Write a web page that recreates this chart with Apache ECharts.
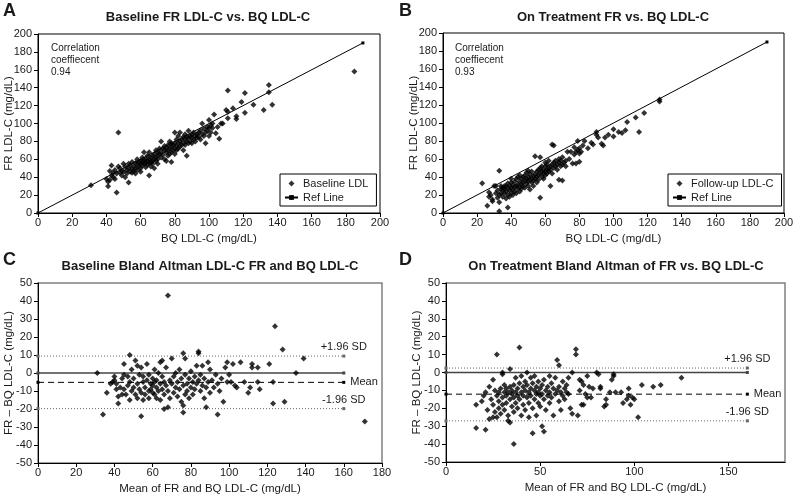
<!DOCTYPE html>
<html><head><meta charset="utf-8">
<script src="https://cdn.jsdelivr.net/npm/echarts@6/dist/echarts.min.js"></script>
<style>html,body{margin:0;padding:0;background:#fff}#c{width:796px;height:495px}</style>
</head><body><div id="c"></div>
<script>
// ---- Data ----
const baselinePoints = [
 [31,31],[40,38],[41,35],[41,30],[42,37],[42,47],[43,42],[43,53],[44,40],[44,45],[45,38],[45,48],[46,44],[46,23],[47,90],[47,52],[48,45],[48,50],[49,42],[49,47],[50,46],[50,55],
 [51,40],[51,52],[52,48],[52,44],[53,34],[53,55],[53,50],[54,46],[54,53],[55,49],[55,45],[55,57],[56,47],[56,52],[57,50],[57,44],[57,56],[58,48],[58,54],[58,60],[59,52],[59,57],[60,50],[60,55],[60,58],[60,46],
 [61,53],[61,57],[61,62],[62,55],[62,59],[62,68],[63,51],[63,56],[63,60],[64,54],[64,58],[64,64],[65,56],[65,42],[65,60],[65,68],[66,52],[66,57],[66,62],[67,58],[67,64],[67,55],[68,60],[68,66],[68,50],[69,62],[69,58],[69,70],[70,64],[70,60],[70,68],[70,55],
 [71,66],[71,72],[72,62],[72,80],[72,68],[73,65],[73,72],[74,70],[74,60],[74,75],[75,68],[75,73],[75,58],[76,70],[76,76],[76,64],[77,72],[77,66],[77,80],[78,74],[78,68],[78,78],[78,57],[79,76],[79,70],[80,72],[80,78],[80,90],[80,66],
 [81,75],[81,82],[81,70],[82,78],[82,86],[82,72],[83,80],[83,74],[83,90],[84,82],[84,76],[85,78],[85,85],[85,70],[86,82],[86,88],[86,76],[87,80],[87,64],[87,85],[88,84],[88,78],[88,92],[89,86],[89,80],[90,84],[90,88],[90,78],
 [91,82],[91,90],[92,86],[92,80],[93,88],[93,84],[94,90],[94,85],[95,82],[95,92],[96,88],[96,100],[97,86],[97,94],[98,78],[98,90],[99,96],[99,92],[100,95],[100,104],[100,86],
 [101,98],[101,90],[102,100],[102,95],[103,110],[104,89],[105,96],[106,83],[107,100],[108,100],[110,115],[111,113],[111,106],[111,137],[114,117],[116,108],[116,105],[119,124],[121,134],[121,112],[126,121],[132,115],[135,143],[135,135],[137,121],[185,158]
];
const followupPoints = [
 [23,33],[26,8],[27,23],[27,18],[28,20],[29,15],[29,13],[30,30],[31,22],[31,30],[32,25],[32,17],[33,2],[33,47],[33,20],[33,12],[34,27],[34,22],[34,30],[35,25],[35,18],[35,28],
 [36,22],[36,27],[36,30],[37,24],[37,16],[37,30],[38,6],[38,20],[38,27],[38,33],[39,25],[39,30],[39,18],[40,28],[40,22],[40,34],[40,38],[41,26],[41,31],[41,20],[42,29],[42,35],[42,24],[43,30],[43,38],[43,22],[44,32],[44,27],[44,40],[45,29],[45,35],[45,24],[45,42],
 [46,32],[46,38],[46,27],[47,34],[47,40],[47,30],[48,36],[48,42],[48,28],[49,33],[49,38],[49,45],[50,35],[50,40],[50,30],[50,47],[51,37],[51,43],[51,26],[52,39],[52,34],[52,46],[53,41],[53,36],[53,30],[54,43],[54,38],[54,63],[55,40],[55,46],[55,34],
 [56,42],[56,48],[56,37],[57,17],[57,44],[57,62],[57,50],[58,40],[58,46],[58,52],[59,44],[59,48],[59,38],[60,46],[60,52],[60,42],[60,56],[61,48],[61,44],[61,54],[62,50],[62,46],[62,58],[63,30],[63,52],[63,48],[64,76],[64,54],[64,44],[65,75],[65,50],[65,56],
 [66,52],[66,58],[67,54],[67,48],[68,37],[68,56],[68,60],[69,52],[69,58],[70,36],[70,54],[70,62],[71,56],[72,58],[72,52],[73,68],[74,60],[75,68],[76,55],[77,73],[77,65],[78,68],[78,55],[79,70],[79,80],[80,57],[80,66],[80,72],
 [81,68],[82,75],[83,80],[85,72],[87,78],[88,76],[90,90],[90,87],[91,84],[93,77],[94,75],[95,84],[97,87],[100,93],[100,85],[103,90],[105,89],[107,92],[108,101],[113,106],[115,90],[118,111],[127,124],[127,126]
];
const baselineBA = [
 [31,0],[34,-23],[36,-11],[38,-6],[39,-5],[40,-4],[40,-2],[41,-9],[41,-6],[42,-17],[42,-13],[43,-8],[44,-3],[44,-12],[45,5],[45,-1],[45,-9],[46,-12],
 [47,-7],[47,-2],[48,10],[48,-15],[48,-5],[49,2],[49,-10],[50,-3],[50,-8],[51,7],[51,-12],[52,4],[52,-6],[52,-14],[53,-1],[53,-9],[54,-24],[54,3],[54,-11],[55,-5],[55,-15],[55,-2],
 [56,-8],[56,-12],[57,5],[57,-4],[58,-10],[58,-1],[58,-14],[59,-6],[59,-9],[60,-3],[60,-11],[60,-7],[61,-5],[61,-12],[61,2],[62,-8],[62,-14],[62,-4],[63,0],[63,-10],[64,-6],[64,6],[64,-15],[65,7],[65,-9],[65,-2],[66,-20],[66,-12],[66,-5],
 [67,-7],[67,3],[68,-19],[68,-10],[68,43],[69,-4],[69,-14],[70,-6],[70,8],[71,-2],[71,-11],[72,-8],[72,0],[73,-13],[73,-5],[74,-9],[74,2],[75,-3],[75,-16],[76,11],[76,-22],[76,-18],[76,-7],[77,8],[77,-1],[77,-12],
 [78,-6],[78,-10],[79,-3],[79,-14],[80,-8],[80,1],[81,-5],[81,-12],[82,-2],[82,-9],[83,4],[83,-6],[84,12],[84,11],[84,-4],[85,-10],[85,-1],[86,4],[86,-7],[87,-14],[87,-3],[88,-19],[88,-8],[89,6],[89,-5],[90,-11],[90,2],
 [91,-4],[92,-8],[93,-1],[94,-23],[94,-6],[95,-10],[96,-3],[97,-16],[98,3],[99,6],[99,-5],[100,-1],[101,-5],[102,5],[103,-7],[104,-8],[106,6],[108,-5],[110,-11],[111,-8],[112,5],[112,3],[115,3],[115,-5],[116,-9],[121,5],
 [123,-5],[123,-17],[124,26],[128,13],[129,-16],[135,0],[139,8],[171,-27]
];
const followupBA = [
 [16,-18],[16,-31],[19,-16],[20,-13],[21,-32],[21,-11],[22,-21],[23,-26],[23,-8],[24,-15],[25,-4],[25,-18],[25,-25],
 [26,-10],[26,-22],[27,10],[27,-13],[27,-25],[28,-16],[28,-20],[28,-11],[29,-9],[29,-23],[30,0],[30,-1],[30,-14],[30,-18],[31,-11],[31,-7],[31,-21],[32,-13],[32,-9],[32,-17],[33,-24],[33,-11],[33,-27],[34,2],[34,-8],[34,-15],[34,-28],[35,-12],[35,-19],[35,-10],
 [36,-40],[36,-7],[36,-14],[36,-22],[37,-11],[37,-17],[37,-3],[38,-9],[38,-13],[38,-20],[39,-6],[39,-15],[39,14],[40,-11],[40,-2],[40,-24],[41,-8],[41,-13],[41,-18],[42,-10],[42,-5],[42,-21],[43,0],[43,-14],[43,-7],[44,-11],[44,-25],[44,-17],[45,-9],[45,-3],[45,-13],
 [46,-34],[46,-6],[46,-20],[47,-10],[47,-15],[47,-2],[48,-8],[48,-12],[48,-24],[49,-5],[49,-17],[49,-11],[50,-9],[50,-13],[50,-19],[51,-30],[51,-7],[51,-12],[52,-33],[52,-4],[52,-15],[53,-10],[53,-21],[54,-8],[54,-13],[55,-2],[55,-11],[55,-17],
 [56,-6],[56,-14],[57,-9],[57,-24],[58,-12],[58,-3],[59,-10],[59,7],[60,-16],[60,4],[60,-8],[61,-11],[61,-21],[62,-5],[62,-13],[63,-9],[63,-15],[64,-11],[64,-7],[65,-12],[65,-3],[66,-20],
 [67,0],[67,-23],[69,13],[69,10],[70,-24],[71,-4],[71,-10],[72,-18],[72,-5],[73,-18],[73,-7],[74,-12],[75,-14],[75,-2],[76,-8],[77,-14],[78,-9],[80,0],[81,-1],
 [82,-9],[82,-8],[84,-19],[85,-18],[85,-15],[87,-11],[88,-4],[89,-1],[89,-2],[90,-11],[93,-11],[94,-17],[96,-15],[97,-9],[97,-13],[98,-18],[99,-14],[100,-15],[102,-25],[104,-7],[110,-8],[114,-7],[125,-3]
];
const refLine = [[0,0],[190,190]];
const baLineX = [0,160];
const baselineLimits = [9.4, -5.2, -19.8];   // +1.96 SD, mean, -1.96 SD
const followupLimits = [2.5, -12.1, -27.0];
const correlations = ['0.94','0.93'];
const ticksD = [0,50,100,150];

// ---- Chart ----
const FONT = "'Liberation Sans', Arial, sans-serif";
const chart = echarts.init(document.getElementById('c'), null, {renderer:'canvas'});
const DIAMOND = 'path://M0,-1L1,0L0,1L-1,0Z';

function grid(left, top, width, height, ba){
  return {left, top, width, height, containLabel:false, outerBoundsMode:'none', show:true,
    borderColor: ba ? '#808080' : '#000', borderWidth: ba ? 1.5 : 1, backgroundColor:'transparent'};
}
function axisCommon(){
  return {
    axisLine:{show:true, onZero:false, lineStyle:{color:'#000', width:1}},
    axisTick:{show:true, length:4, inside:false, lineStyle:{color:'#000', width:1}},
    axisLabel:{color:'#1a1a1a', fontSize:11, fontFamily:FONT, margin:4},
    splitLine:{show:false},
    nameTextStyle:{color:'#1a1a1a', fontSize:11.5, fontFamily:FONT},
    nameLocation:'middle',
    nameMoveOverlap:false
  };
}
function xAx(idx, min, max, interval, name, extra){
  const a = Object.assign(axisCommon(), {type:'value', gridIndex:idx, min, max, interval, name, nameGap:20});
  return Object.assign(a, extra||{});
}
function yAx(idx, min, max, interval, name){
  const a = Object.assign(axisCommon(), {type:'value', gridIndex:idx, min, max, interval, name, nameGap:23});
  a.axisLabel = Object.assign({}, a.axisLabel, {margin:6});
  return a;
}
function scatter(name, idx, data){
  return {type:'scatter', name, xAxisIndex:idx, yAxisIndex:idx, data, symbol:'diamond', symbolSize:6,
    itemStyle:{color:'#000'}, animation:false, z:3};
}
function refSeries(idx){
  return {type:'line', name:'Ref Line', xAxisIndex:idx, yAxisIndex:idx, data:refLine, symbol:'rect', symbolSize:3,
    showSymbol:true, lineStyle:{color:'#000', width:1}, itemStyle:{color:'#000'}, animation:false, z:2};
}
function levelLine(idx, y, style, label, labelPos){
  const end = {value:[baLineX[1], y]};
  if (label) end.label = {show:true, formatter:label, position:labelPos, distance: labelPos==='right'?5:2,
     color:'#1a1a1a', fontSize:11, fontFamily:FONT};
  return {type:'line', xAxisIndex:idx, yAxisIndex:idx, data:[[baLineX[0], y], end], symbol:'rect', symbolSize:3,
    lineStyle:style, itemStyle:{color: style.color}, animation:false, z:2, silent:true};
}
function baLines(idx, lim){
  return [
    levelLine(idx, 0, {color:'#444', width:1.5, type:'solid'}),
    levelLine(idx, lim[1], {color:'#000', width:1, type:[6,4]}, 'Mean', 'right'),
    levelLine(idx, lim[0], {color:'#666', width:1, type:[1,2]}, '+1.96 SD', 'top'),
    levelLine(idx, lim[2], {color:'#666', width:1, type:[1,2]}, '-1.96 SD', 'top')
  ];
}
function legend(names, left, top){
  return {data:[{name:names[0], icon:DIAMOND}, {name:names[1]}], left, top, orient:'vertical',
    borderColor:'#000', borderWidth:1, borderRadius:0, symbolKeepAspect:true,
    padding:[4,8,3,4], itemGap:3, itemWidth:13, itemHeight:6, selectedMode:false,
    textStyle:{color:'#1a1a1a', fontSize:11, fontFamily:FONT}};
}
function txt(text, x, y, font, align){
  return {type:'text', x, y, style:{text, font, fill:'#1a1a1a', textAlign:align||'center', textVerticalAlign:'middle'}, silent:true};
}
const titleFont = "bold 13px " + FONT;
const letterFont = "bold 18px " + FONT;
const corrFont = "10px " + FONT;

chart.setOption({
  backgroundColor:'#fff',
  animation:false,
  grid:[grid(38,34,342,179,false), grid(443,33,341,180,false), grid(38,283,344,180,true), grid(446,283,339,179,true)],
  xAxis:[
    xAx(0,0,200,20,'BQ LDL-C (mg/dL)'),
    xAx(1,0,200,20,'BQ LDL-C (mg/dL)'),
    xAx(2,0,180,20,'Mean of FR and BQ LDL-C (mg/dL)'),
    xAx(3,0,180,50,'Mean of FR and BQ LDL-C (mg/dL)', {})
  ],
  yAxis:[
    yAx(0,0,200,20,'FR LDL-C (mg/dL)'),
    yAx(1,0,200,20,'FR LDL-C (mg/dL)'),
    yAx(2,-50,50,10,'FR \u2013 BQ LDL-C (mg/dL)'),
    yAx(3,-50,50,10,'FR \u2013 BQ LDL-C (mg/dL)')
  ],
  legend:[legend(['Baseline LDL','Ref Line'],280,174), legend(['Follow-up LDL-C','Ref Line'],668,174)],
  series:[
    scatter('Baseline LDL',0,baselinePoints), refSeries(0),
    scatter('Follow-up LDL-C',1,followupPoints), refSeries(1),
    scatter('Baseline BA',2,baselineBA), ...baLines(2, baselineLimits),
    scatter('Follow-up BA',3,followupBA), ...baLines(3, followupLimits)
  ],
  graphic:[
    txt('A',3,11,letterFont,'left'), txt('B',399,11,letterFont,'left'),
    txt('C',3,260,letterFont,'left'), txt('D',399,260,letterFont,'left'),
    txt('Baseline FR LDL-C vs. BQ LDL-C',208,17,titleFont),
    txt('On Treatment FR vs. BQ LDL-C',613,17,titleFont),
    txt('Baseline Bland Altman LDL-C FR and BQ LDL-C',210,266,titleFont),
    txt('On Treatment Bland Altman of FR vs. BQ LDL-C',616,266,titleFont),
    {type:'text', x:51, y:42, style:{text:'Correlation\ncoeffiecent\n'+correlations[0], font:corrFont, lineHeight:12, fill:'#1a1a1a', textVerticalAlign:'top'}},
    {type:'text', x:455, y:42, style:{text:'Correlation\ncoeffiecent\n'+correlations[1], font:corrFont, lineHeight:12, fill:'#1a1a1a', textVerticalAlign:'top'}}
  ]
});
// D axis: labels and ticks only at 0,50,100,150
chart.setOption({xAxis:[{},{},{},{axisLabel:{showMaxLabel:false}, axisTick:{customValues:ticksD}}]});
</script></body></html>
